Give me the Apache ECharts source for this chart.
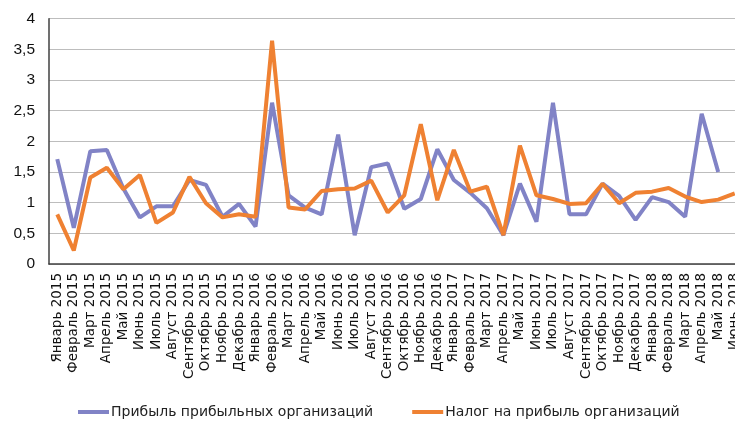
<!DOCTYPE html>
<html><head><meta charset="utf-8">
<script src="https://cdn.jsdelivr.net/npm/echarts@6/dist/echarts.min.js"></script>
<style>html,body{margin:0;padding:0;background:#fff}#c{width:735px;height:423px}</style>
</head><body><div id="c"></div>
<script>
const months = ['Январь','Февраль','Март','Апрель','Май','Июнь','Июль','Август','Сентябрь','Октябрь','Ноябрь','Декабрь'];
const categories = [];
for (let y = 2015; y <= 2018; y++) for (let m = 0; m < 12; m++) { if (y === 2018 && m > 5) break; categories.push(months[m] + ' ' + y); }

const profit = [1.71,0.59,1.84,1.86,1.23,0.76,0.94,0.94,1.37,1.29,0.77,0.98,
  0.61,2.63,1.12,0.92,0.81,2.11,0.47,1.58,1.64,0.90,1.06,1.87,
  1.37,1.16,0.91,0.47,1.31,0.69,2.63,0.81,0.81,1.31,1.11,0.72,
  1.09,1.01,0.77,2.45,1.50,null];
const tax = [0.81,0.22,1.41,1.57,1.22,1.45,0.67,0.84,1.42,0.99,0.76,0.81,
  0.77,3.64,0.92,0.89,1.19,1.22,1.23,1.36,0.84,1.12,2.28,1.04,
  1.86,1.18,1.26,0.47,1.93,1.12,1.06,0.98,0.99,1.31,0.99,1.16,
  1.18,1.24,1.10,1.01,1.05,1.15];
const yTicks = ['0','0,5','1','1,5','2','2,5','3','3,5','4'];

const chart = echarts.init(document.getElementById('c'));
chart.setOption({
  animation: false,
  grid: {left: 49, width: 694, top: 18.7, bottom: 159, containLabel: false, outerBoundsMode: 'none'},
  legend: {
    bottom: -1, left: 73, itemGap: 39, itemWidth: 31, itemHeight: 4, icon: 'rect',
    textStyle: {fontFamily: 'DejaVu Sans', fontSize: 14, color: '#222', padding: [0,0,0,-3]},
    data: ['Прибыль прибыльных организаций', 'Налог на прибыль организаций']
  },
  xAxis: {
    type: 'category', data: categories, boundaryGap: true,
    axisLine: {lineStyle: {color: '#404040', width: 1.5}},
    axisTick: {show: false},
    axisLabel: {interval: 0, rotate: 90, margin: 9, fontFamily: 'DejaVu Sans', fontSize: 13.5, color: '#111'}
  },
  yAxis: {
    type: 'value', min: 0, max: 4, interval: 0.5,
    axisLine: {show: true, lineStyle: {color: '#404040', width: 1.5}},
    axisTick: {show: false},
    splitLine: {lineStyle: {color: '#bdbdbd', width: 1.2}},
    axisLabel: {margin: 14, fontFamily: 'Liberation Sans', fontSize: 15.5, color: '#111',
      formatter: v => yTicks[Math.round(v * 2)]}
  },
  series: [
    {name: 'Прибыль прибыльных организаций', type: 'line', data: profit, symbol: 'none',
      lineStyle: {width: 4, color: '#8183c6'}, itemStyle: {color: '#8183c6'}},
    {name: 'Налог на прибыль организаций', type: 'line', data: tax, symbol: 'none',
      lineStyle: {width: 4, color: '#ef8132'}, itemStyle: {color: '#ef8132'}}
  ]
});
</script></body></html>
